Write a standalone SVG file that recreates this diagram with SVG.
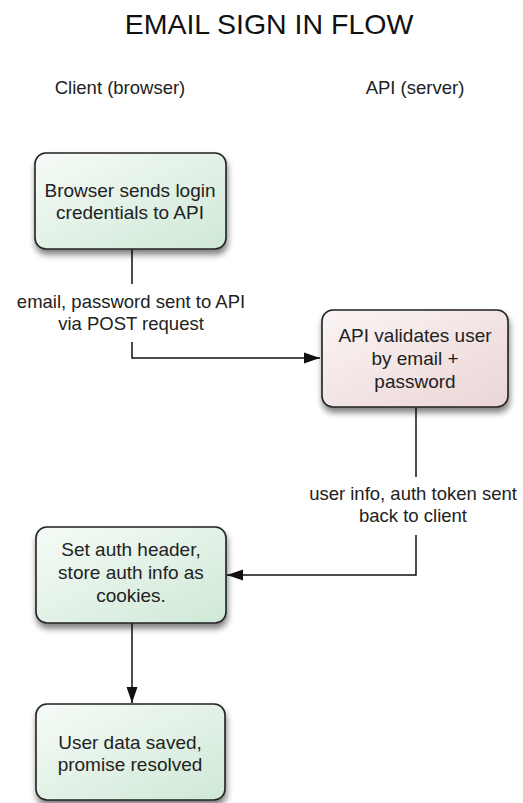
<svg xmlns="http://www.w3.org/2000/svg" width="523" height="803" viewBox="0 0 523 803">
<defs>
<linearGradient id="gGreen" x1="0" y1="0" x2="1" y2="1">
<stop offset="0" stop-color="#f6fbf7"/>
<stop offset="1" stop-color="#cfe8d6"/>
</linearGradient>
<linearGradient id="gPink" x1="0" y1="0" x2="1" y2="1">
<stop offset="0" stop-color="#fbf4f4"/>
<stop offset="1" stop-color="#ebd5d6"/>
</linearGradient>
<filter id="sh" x="-20%" y="-20%" width="140%" height="150%">
<feGaussianBlur in="SourceAlpha" stdDeviation="3"/>
<feOffset dx="1" dy="5" result="b"/>
<feComponentTransfer><feFuncA type="linear" slope="0.5"/></feComponentTransfer>
<feMerge><feMergeNode/><feMergeNode in="SourceGraphic"/></feMerge>
</filter>
<marker id="arr" markerWidth="16" markerHeight="12" refX="16" refY="6" orient="auto" markerUnits="userSpaceOnUse">
<path d="M0,0.5 L16,6 L0,11.5 Z" fill="#111"/>
</marker>
</defs>
<style>
text{font-family:"Liberation Sans",Arial,Helvetica,sans-serif;fill:#222;text-anchor:middle}
.box{stroke:#222;stroke-width:1.6}
.green{fill:url(#gGreen)}
.pink{fill:url(#gPink)}
.t{font-size:19px}
.lbl{font-size:18.5px}
.conn{fill:none;stroke:#111;stroke-width:1.5}
</style>
<rect width="523" height="803" fill="#fff"/>
<text x="269" y="34" style="font-size:28.5px;fill:#111">EMAIL SIGN IN FLOW</text>
<text x="120" y="94" class="lbl">Client (browser)</text>
<text x="415" y="94" class="lbl">API (server)</text>

<g id="connectors">
<path class="conn" d="M132,249 V358 H320" marker-end="url(#arr)"/>
<path class="conn" d="M416,407 V575 H227" marker-end="url(#arr)"/>
<path class="conn" d="M132,623 V703" marker-end="url(#arr)"/>
<rect x="8" y="284" width="246" height="58" fill="#fff"/>
<text x="131" y="308" class="lbl">email, password sent to API</text>
<text x="131" y="330" class="lbl">via POST request</text>
<rect x="302" y="477" width="221" height="58" fill="#fff"/>
<text x="413" y="500" class="lbl">user info, auth token sent</text>
<text x="413" y="522" class="lbl">back to client</text>
</g>

<g id="node-browser-sends">
<rect class="box green" x="35" y="153" width="191" height="96" rx="11" filter="url(#sh)"/>
<text x="130" y="197" class="t">Browser sends login</text>
<text x="130" y="219" class="t">credentials to API</text>
</g>
<g id="node-api-validates">
<rect class="box pink" x="322" y="310" width="186" height="97" rx="11" filter="url(#sh)"/>
<text x="415" y="342" class="t">API validates user</text>
<text x="415" y="365" class="t">by email +</text>
<text x="415" y="388" class="t">password</text>
</g>
<g id="node-set-auth">
<rect class="box green" x="36" y="527" width="190" height="96" rx="11" filter="url(#sh)"/>
<text x="131" y="556" class="t">Set auth header,</text>
<text x="131" y="579" class="t">store auth info as</text>
<text x="131" y="602" class="t">cookies.</text>
</g>
<g id="node-user-data">
<rect class="box green" x="36" y="704" width="189" height="96" rx="11" filter="url(#sh)"/>
<text x="130" y="749" class="t">User data saved,</text>
<text x="130" y="771" class="t">promise resolved</text>
</g>
</svg>
